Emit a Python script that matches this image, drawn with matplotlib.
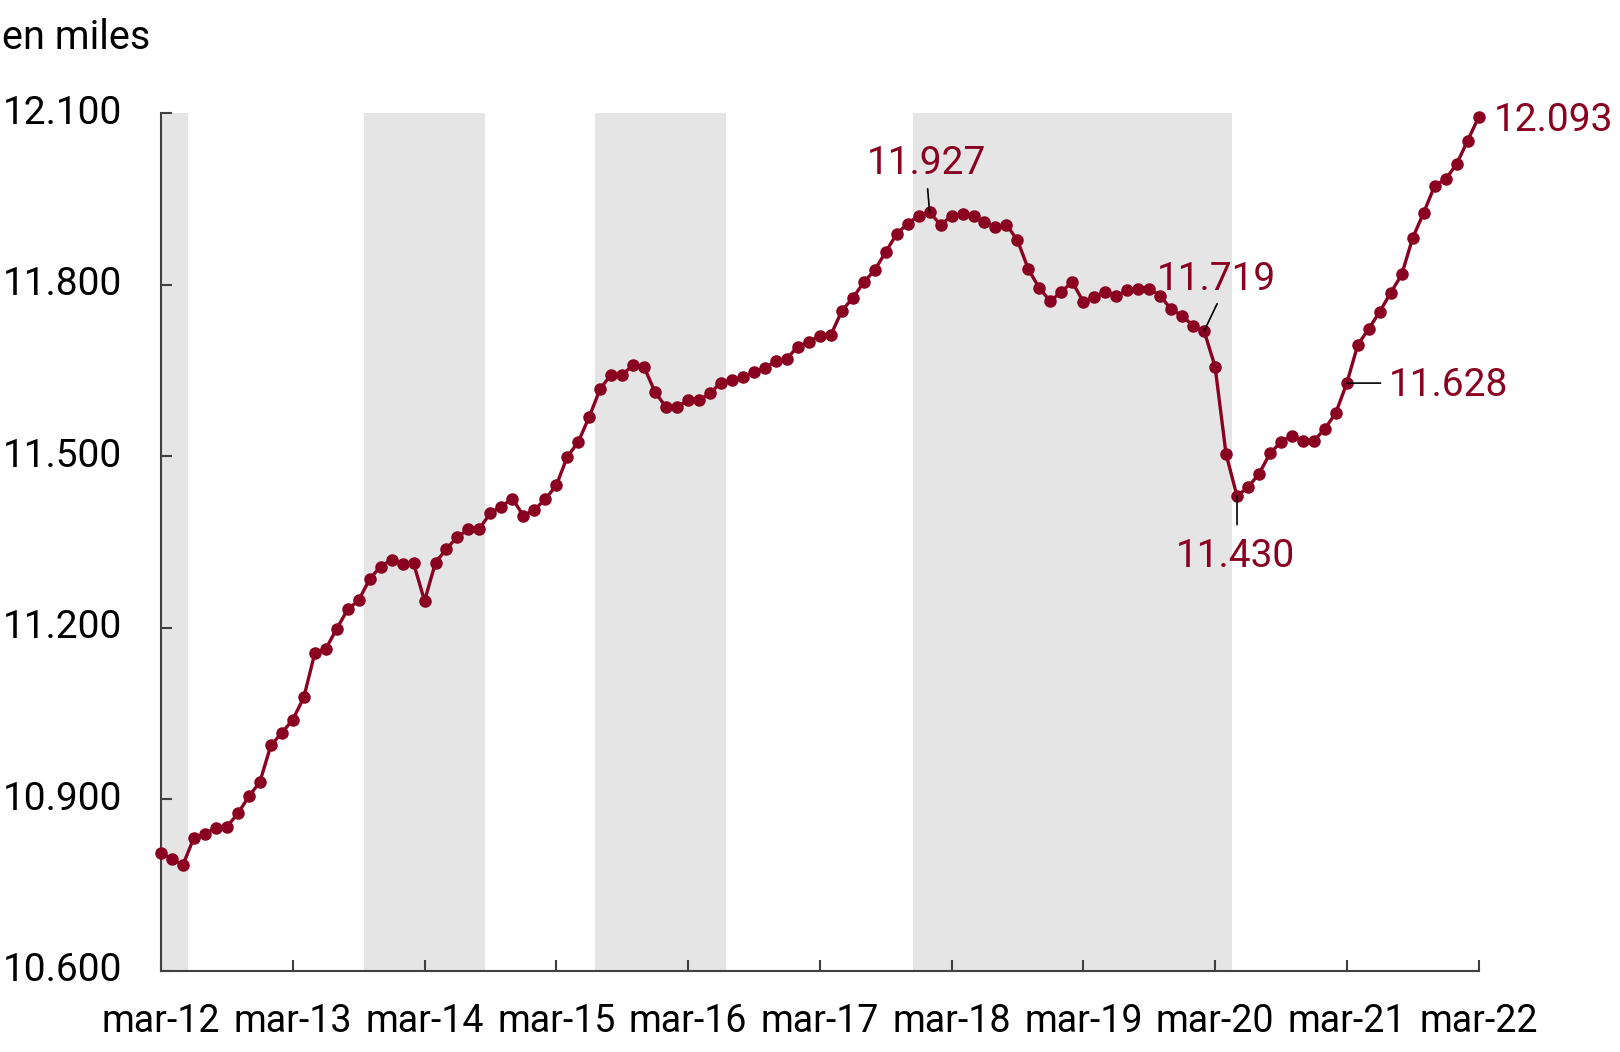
import matplotlib
matplotlib.use("Agg")
import matplotlib.pyplot as plt
import numpy as np

# monthly series, en miles (mar-12 ... mar-22)
values = [
    10.806, 10.795, 10.785, 10.833, 10.839, 10.850, 10.852, 10.875, 10.905, 10.930,
    10.994, 11.016, 11.039, 11.078, 11.155, 11.163, 11.198, 11.232, 11.248, 11.285,
    11.307, 11.319, 11.312, 11.313, 11.247, 11.314, 11.338, 11.359, 11.372, 11.373,
    11.401, 11.412, 11.426, 11.396, 11.406, 11.425, 11.449, 11.499, 11.525, 11.569,
    11.618, 11.643, 11.643, 11.659, 11.656, 11.612, 11.586, 11.586, 11.598, 11.598,
    11.610, 11.629, 11.633, 11.639, 11.647, 11.655, 11.666, 11.671, 11.692, 11.700,
    11.711, 11.712, 11.754, 11.777, 11.804, 11.826, 11.857, 11.889, 11.907, 11.921,
    11.927, 11.905, 11.920, 11.924, 11.921, 11.909, 11.901, 11.905, 11.878, 11.827,
    11.794, 11.771, 11.788, 11.805, 11.770, 11.779, 11.788, 11.780, 11.791, 11.793,
    11.793, 11.781, 11.757, 11.746, 11.728, 11.719, 11.657, 11.504, 11.430, 11.446,
    11.469, 11.505, 11.525, 11.536, 11.527, 11.527, 11.548, 11.576, 11.628, 11.695,
    11.723, 11.753, 11.786, 11.818, 11.882, 11.926, 11.973, 11.985, 12.011, 12.052,
    12.093,
]
year_labels = ["mar-12", "mar-13", "mar-14", "mar-15", "mar-16", "mar-17",
               "mar-18", "mar-19", "mar-20", "mar-21", "mar-22"]
y_ticks = [10.6, 10.9, 11.2, 11.5, 11.8, 12.1]

# shaded periods (first / last month index)
shade_start = [0, 19, 40, 69]
shade_end = [2, 29, 51, 97]

# labelled months
label_months = [70, 95, 98, 108, 120]

RED = "#8a0020"
AXC = "#404040"


def main():
    plt.rcParams["font.family"] = ["Roboto", "DejaVu Sans"]

    fig = plt.figure(figsize=(16.2, 10.52), dpi=100)
    ax = fig.add_axes([0.0994, 0.0773, 0.8133, 0.815])

    x = np.arange(len(values))

    for s, e in zip(shade_start, shade_end):
        ax.axvspan(s - 0.5, e + 0.5, color="#e5e5e5", lw=0, zorder=0)

    ax.plot(x, values, color=RED, lw=2.4, marker="o", markersize=8,
            clip_on=False, zorder=3)

    ax.set_xlim(0, len(values) - 1)
    ax.set_ylim(y_ticks[0], y_ticks[-1])
    ax.set_xticks(np.arange(0, len(values), 12))
    ax.set_xticklabels(year_labels)
    ax.set_yticks(y_ticks)
    ax.set_yticklabels(["{:.3f}".format(v) for v in y_ticks])

    for side in ["top", "right"]:
        ax.spines[side].set_visible(False)
    for side in ["left", "bottom"]:
        ax.spines[side].set_color(AXC)
        ax.spines[side].set_linewidth(1.5)

    ax.tick_params(direction="in", length=8, width=1.5, color=AXC)
    ax.tick_params(axis="x", labelsize=27, pad=23)
    ax.tick_params(axis="y", labelsize=28, pad=28)
    for lab in ax.get_yticklabels():
        lab.set_verticalalignment("center")

    # label placement (offsets in points): text offset, leader line offset
    text_off = {70: (-2, 27.8, "center"), 95: (9, 29.3, "center"),
                98: (-1.4, -50.8, "center"), 108: (30.2, -9.6, "left"),
                120: (10.7, -10, "left")}
    line_off = {70: (-1.4, 16.8), 95: (9.4, 19.7), 98: (0, -20.4), 108: (24.3, 0)}

    for m in label_months:
        v = values[m]
        dx, dy, ha = text_off[m]
        ax.annotate("{:.3f}".format(v), xy=(m, v), xytext=(dx, dy),
                    textcoords="offset points", ha=ha, va="baseline",
                    fontsize=28, color=RED, zorder=5)
        if m in line_off:
            ax.annotate("", xy=(m, v), xytext=line_off[m],
                        textcoords="offset points",
                        arrowprops=dict(arrowstyle="-", color="black", lw=1.2,
                                        shrinkA=0, shrinkB=0),
                        zorder=4)

    fig.text(0.001, 1 - 49 / 1052, "en miles", fontsize=28.5, va="baseline")

    plt.savefig("out.png", dpi=100)


if __name__ == '__main__':
    main()
